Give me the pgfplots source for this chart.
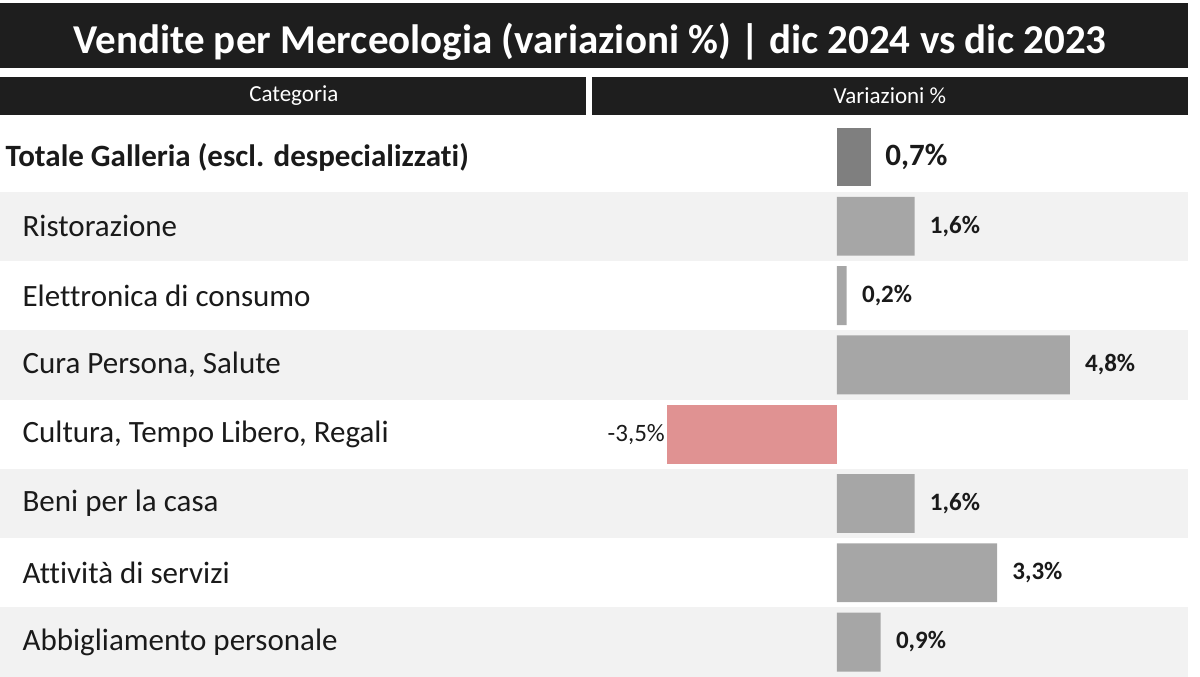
\documentclass[border=0pt]{standalone}
\usepackage{fontspec}
\setmainfont{Carlito}[Ligatures={NoCommon}]
\usepackage{pgfplots}
\pgfplotsset{compat=1.18}
\definecolor{barra}{HTML}{A6A6A6}
\definecolor{totale}{HTML}{7F7F7F}
\definecolor{negativo}{HTML}{E09292}
\definecolor{fascia}{HTML}{F2F2F2}
\definecolor{scuro}{HTML}{1E1E1E}
\definecolor{testo}{HTML}{1A1A1A}

\begin{document}
\begin{tikzpicture}[cat/.style={anchor=west, inner sep=0pt, text=testo, font=\fontsize{15.5}{18}\selectfont}]
\begin{axis}[
    scale only axis,
    width=600pt, height=338.5pt,
    xmin=-17.258, xmax=7.485,
    ymin=-2.2655, ymax=7.504,
    y dir=reverse,
    axis lines=none,
    clip=false,
    xbar,
    bar width=0.85,
    point meta=x,
    /pgf/number format/assume math mode=true,
    nodes near coords={\pgfmathprintnumber[fixed,fixed zerofill,precision=1,use comma]{\pgfplotspointmeta}\%},
    every node near coord/.append style={
        font=\bfseries\fontsize{12.5}{14}\selectfont,
        text=testo, inner sep=0pt},
    ]
    % full picture frame (invisible)
    \path (rel axis cs:0,0) rectangle (rel axis cs:1,1);
    % title bar and header
    \fill[scuro] (axis cs:-17.258,-2.222) rectangle (axis cs:7.237,-1.284);
    \node[text=white, font=\bfseries\fontsize{20.5}{24}\selectfont]
        at (axis cs:-5.093,-1.66) {Vendite per Merceologia (variazioni \%) | dic 2024 vs dic 2023};
    \fill[scuro] (axis cs:-17.258,-1.154) rectangle (axis cs:-5.175,-0.606);
    \fill[scuro] (axis cs:-5.052,-1.154) rectangle (axis cs:7.237,-0.606);
    \node[text=white, font=\fontsize{11.5}{13}\selectfont] at (axis cs:-11.2,-0.88) {Categoria};
    \node[text=white, font=\fontsize{11.5}{13}\selectfont] at (axis cs:1.09,-0.88) {Variazioni \%};
    % row stripes
    \fill[fascia] (axis cs:-17.258,0.5) rectangle (axis cs:7.237,1.5);
    \fill[fascia] (axis cs:-17.258,2.5) rectangle (axis cs:7.237,3.5);
    \fill[fascia] (axis cs:-17.258,4.5) rectangle (axis cs:7.237,5.5);
    \fill[fascia] (axis cs:-17.258,6.5) rectangle (axis cs:7.237,7.504);
    % category names
    \node[cat, font=\bfseries\fontsize{15.5}{18}\selectfont] at (axis cs:-17.15,0) {Totale Galleria (escl. despecializzati)};
    \node[cat] at (axis cs:-16.8,1) {Ristorazione};
    \node[cat] at (axis cs:-16.8,2) {Elettronica di consumo};
    \node[cat] at (axis cs:-16.8,3) {Cura Persona, Salute};
    \node[cat] at (axis cs:-16.8,4) {Cultura, Tempo Libero, Regali};
    \node[cat] at (axis cs:-16.8,5) {Beni per la casa};
    \node[cat] at (axis cs:-16.8,6) {Attività di servizi};
    \node[cat] at (axis cs:-16.8,7) {Abbigliamento personale};
    % bars
    \addplot[fill=totale, draw=none, bar shift=0pt,
        every node near coord/.append style={anchor=west, xshift=7pt,
            font=\bfseries\fontsize{15.5}{18}\selectfont}]
        coordinates {(0.7,0)};
    \addplot[fill=barra, draw=none, bar shift=0pt,
        every node near coord/.append style={anchor=west, xshift=7.5pt}]
        coordinates {(1.6,1) (0.2,2) (4.8,3) (1.6,5) (3.3,6) (0.9,7)};
    \addplot[fill=negativo, draw=none, bar shift=0pt,
        every node near coord/.append style={anchor=east, xshift=-1pt,
            font=\fontsize{12.5}{14}\selectfont}]
        coordinates {(-3.5,4)};
\end{axis}
\end{tikzpicture}
\end{document}
